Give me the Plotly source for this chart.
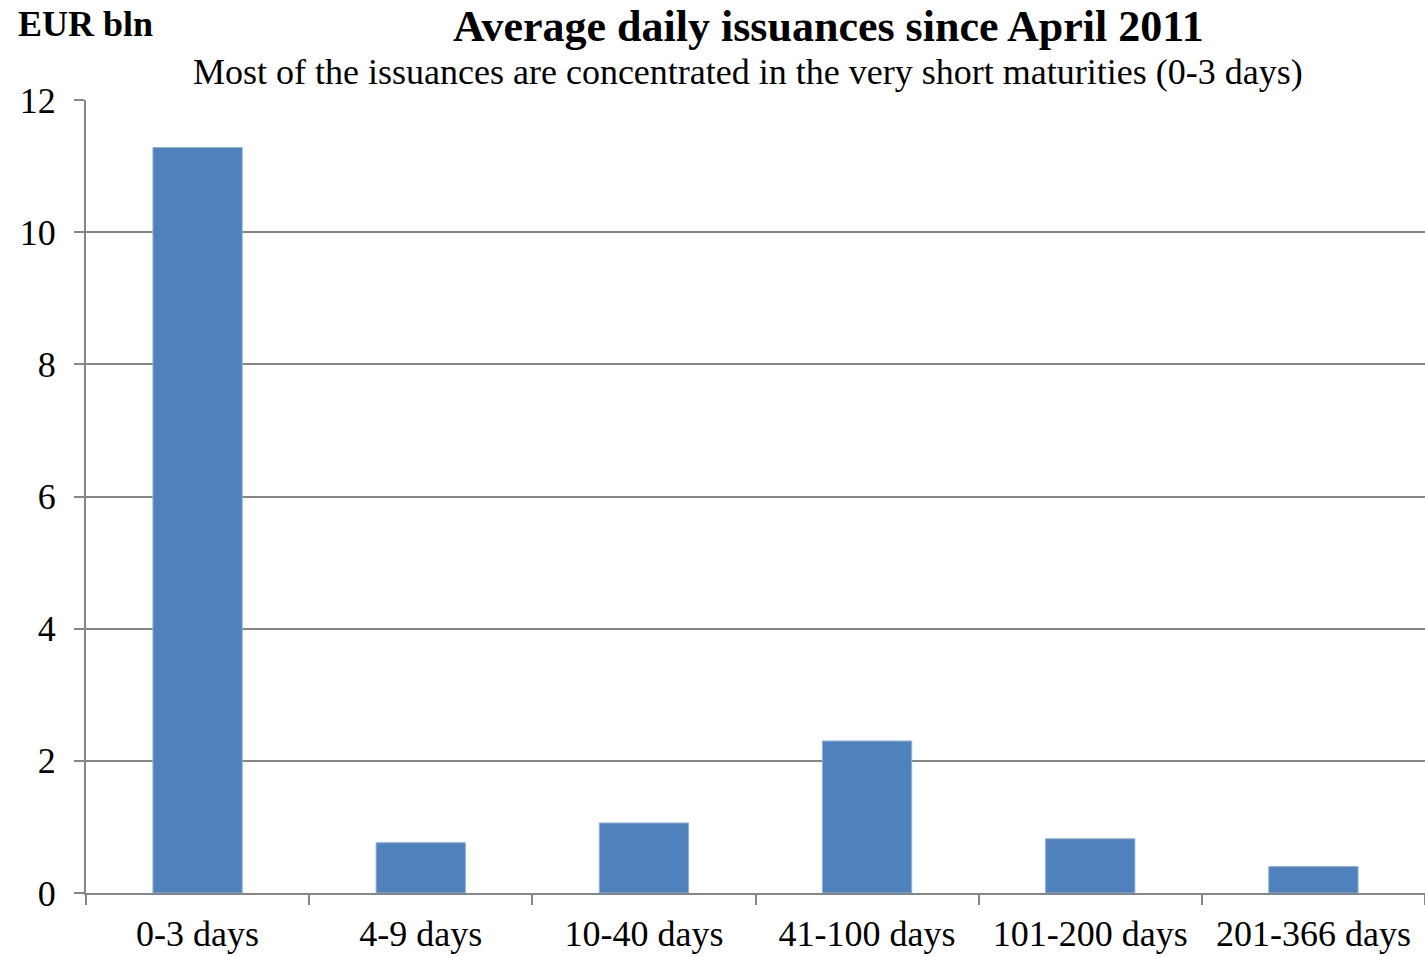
import plotly.graph_objects as go

categories = ["0-3 days", "4-9 days", "10-40 days", "41-100 days", "101-200 days", "201-366 days"]
issuances = [11.28, 0.76, 1.06, 2.30, 0.82, 0.40]
y_ticks = [0, 2, 4, 6, 8, 10, 12]

FONT = "Liberation Serif, Times New Roman, serif"
GREY = "#868686"

fig = go.Figure(go.Bar(x=categories, y=issuances, width=0.4,
                       marker=dict(color="#4F81BD", line=dict(color="#8FB0D8", width=1))))

fig.update_layout(
    width=1425, height=957,
    paper_bgcolor="white", plot_bgcolor="white",
    margin=dict(l=86, r=0, t=100, b=64),
    font=dict(family=FONT, size=36, color="black"),
    showlegend=False,
)
fig.update_xaxes(showline=True, linecolor=GREY, linewidth=2, showgrid=False,
                 ticks="outside", tickson="boundaries", ticklen=10, tickcolor=GREY, tickwidth=1.5,
                 ticklabelstandoff=8, tickfont=dict(size=36))
fig.update_yaxes(range=[0, 12], tickvals=y_ticks, showline=True, linecolor=GREY, linewidth=2,
                 showgrid=True, gridcolor=GREY, gridwidth=1.5, zeroline=False,
                 ticks="outside", ticklen=10, tickcolor=GREY, tickwidth=1.5,
                 ticklabelstandoff=11, tickfont=dict(size=36))

fig.add_annotation(text="<b>EUR bln</b>", xref="paper", yref="paper", x=-86/1339, y=1 + 76/793,
                   xanchor="left", yanchor="middle", showarrow=False,
                   font=dict(family=FONT, size=36), xshift=16)
fig.add_annotation(text="<b>Average daily issuances since April 2011</b>", xref="paper", yref="paper",
                   x=(828 - 86) / 1339, y=1 + 74/793, xanchor="center", yanchor="middle",
                   showarrow=False, font=dict(family=FONT, size=44))
fig.add_annotation(text="Most of the issuances are concentrated in the very short maturities (0-3 days)",
                   xref="paper", yref="paper", x=(748 - 86) / 1339, y=1 + 28/793,
                   xanchor="center", yanchor="middle", showarrow=False, font=dict(family=FONT, size=36))

# drop the default body margin so the figure fills the window exactly
fig.write_html("out.html", config={"displayModeBar": False},
               post_script="document.body.style.margin='0';document.body.style.overflow='hidden';")
